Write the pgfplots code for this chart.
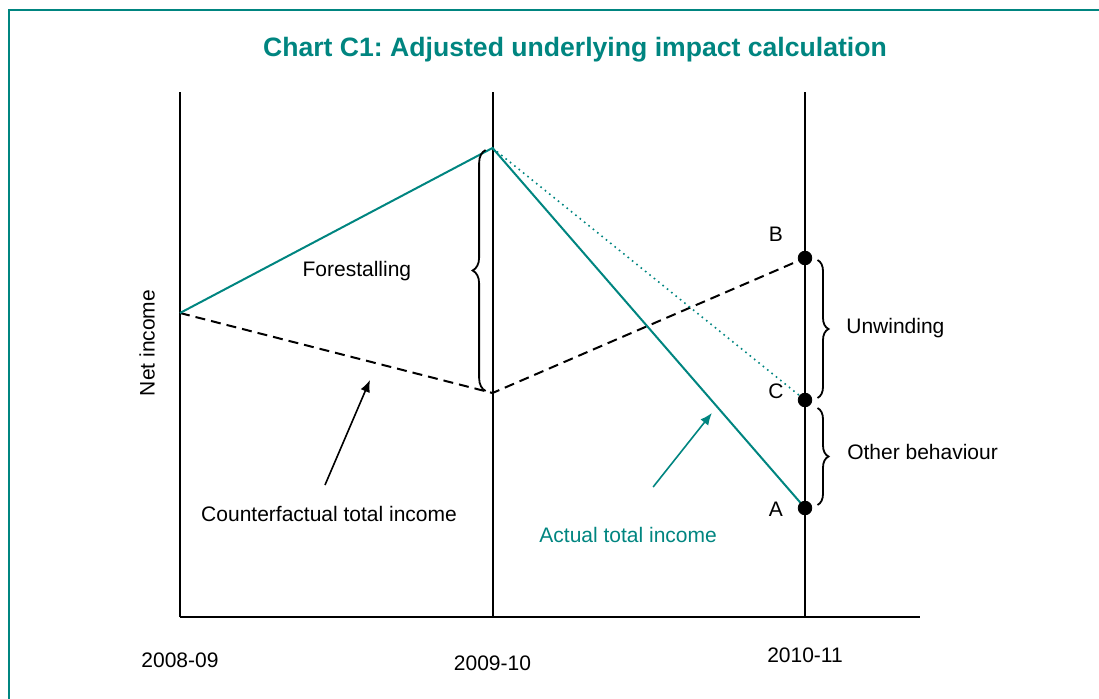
\documentclass[border=0pt]{standalone}
\usepackage{pgfplots}
\pgfplotsset{compat=1.18}
\usepackage{fontspec}
\setmainfont{Liberation Sans}
\usetikzlibrary{decorations.pathreplacing,arrows.meta}
\definecolor{hmteal}{RGB}{0,133,128}

\begin{document}
\frenchspacing
\begin{tikzpicture}
\useasboundingbox (0,0) rectangle (549.5pt,349pt);
% outer frame (cut at right and bottom edges)
\draw[hmteal, line width=1pt] (4.25pt,-20pt) -- (4.25pt,343.75pt) -- (570pt,343.75pt);
\node[font=\fontsize{13.3}{16}\selectfont\bfseries, text=hmteal] at (287.5pt,324pt)
  {Chart C1: Adjusted underlying impact calculation};

\begin{axis}[
    at={(90pt,40.5pt)}, anchor=origin,
    scale only axis,
    width=370pt, height=262.5pt,
    xmin=0, xmax=2.368, ymin=0, ymax=525,
    axis x line=bottom, axis y line=left,
    axis line style={-, line width=1pt},
    xtick=\empty, ytick=\empty,
    clip=false,
    font=\fontsize{10.5}{12}\selectfont,
    ylabel={Net income},
    ylabel style={at={(axis description cs:0,0.522)}, anchor=center, yshift=16.5pt},
]
% year guide lines
\addplot[black, line width=1pt] coordinates {(1,0) (1,525)};
\addplot[black, line width=1pt] coordinates {(2,0) (2,525)};
% counterfactual total income
\addplot[black, line width=1pt, dash pattern=on 5pt off 3pt] coordinates {(0,304) (1,224) (2,359)};
% actual total income
\addplot[hmteal, line width=1pt] coordinates {(0,304) (1,469) (2,109)};
% actual without other behaviour
\addplot[hmteal, line width=0.8pt, dotted] coordinates {(1,469) (2,217)};
% points A, B, C
\addplot[only marks, mark=*, mark size=3.4pt, black] coordinates {(2,359) (2,217) (2,109)};

\draw[decorate, decoration={brace, amplitude=6.5pt}, line width=0.9pt]
  (axis cs:0.978,226) -- (axis cs:0.978,467);
\draw[decorate, decoration={brace, amplitude=5.5pt}, line width=0.9pt]
  (axis cs:2.04,357) -- (axis cs:2.04,219);
\draw[decorate, decoration={brace, amplitude=5.5pt}, line width=0.9pt]
  (axis cs:2.04,209) -- (axis cs:2.04,112);

\draw[-{Latex[length=6pt,width=5pt]}, line width=0.8pt, black]
  (axis cs:0.464,132) -- (axis cs:0.608,237);
\draw[-{Latex[length=6pt,width=5pt]}, line width=0.8pt, hmteal]
  (axis cs:1.514,130) -- (axis cs:1.702,204);

\node at (axis cs:0.566,346) {Forestalling};
\node at (axis cs:0.477,103) {Counterfactual total income};
\node[text=hmteal] at (axis cs:1.434,82) {Actual total income};
\node[anchor=west, inner sep=0pt] at (axis cs:2.131,289) {Unwinding};
\node[anchor=west, inner sep=0pt] at (axis cs:2.134,165) {Other behaviour};
\node at (axis cs:1.907,383) {B};
\node at (axis cs:1.907,226) {C};
\node at (axis cs:1.907,108) {A};

\node at (axis cs:0,-43) {2008-09};
\node at (axis cs:1,-46) {2009-10};
\node at (axis cs:2,-38) {2010-11};
\end{axis}
\end{tikzpicture}
\end{document}
